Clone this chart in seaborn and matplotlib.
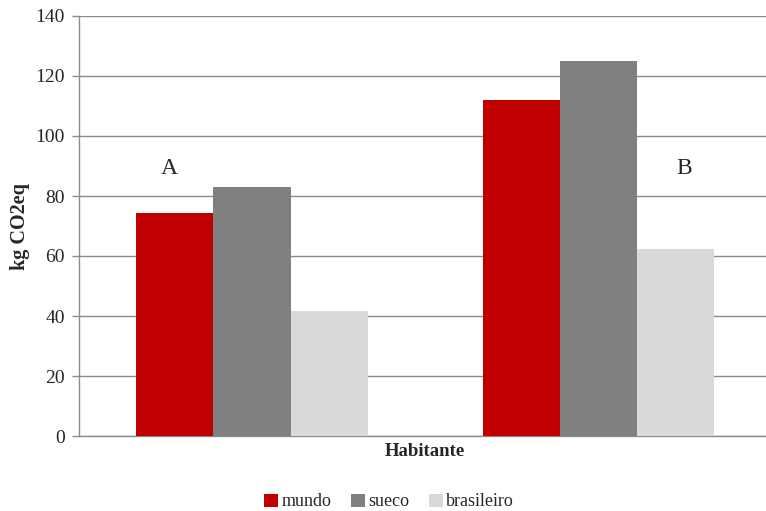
import matplotlib
matplotlib.use("Agg")
import matplotlib.pyplot as plt
import seaborn as sns
import pandas as pd

# Emissions per inhabitant (kg CO2eq) for two scenarios
scenarios = ["A", "B"]
series = ["mundo", "sueco", "brasileiro"]
mundo = [74.3, 112.0]
sueco = [83.0, 124.9]
brasileiro = [41.6, 62.3]
colors = ["#C00000", "#808080", "#D9D9D9"]
yticks = [0, 20, 40, 60, 80, 100, 120, 140]

df = pd.DataFrame({
    "cenario": scenarios * 3,
    "serie": [s for s in series for _ in scenarios],
    "valor": mundo + sueco + brasileiro,
})

sns.set_theme(style="white")
plt.rcParams["font.family"] = ["Liberation Serif", "DejaVu Serif"]

fig = plt.figure(figsize=(7.66, 5.11), dpi=100)
ax = fig.add_axes([78.75 / 766, 75 / 511, 693 / 766, 420 / 511])

sns.barplot(data=df, x="cenario", y="valor", hue="serie", hue_order=series,
            palette=colors, width=0.667, saturation=1, edgecolor="none",
            linewidth=0, ax=ax, zorder=3)

ax.set_xlim(-0.5, 1.5)
ax.set_ylim(0, 140)
ax.set_yticks(yticks)
ax.set_yticklabels([str(v) for v in yticks], fontsize=14)
ax.set_xticks([])
ax.grid(axis="y", color="#8C8C8C", linewidth=1, zorder=0)
ax.tick_params(axis="y", length=5, width=1, color="#8C8C8C", direction="out",
               pad=5, left=True)

for side in ["top", "right"]:
    ax.spines[side].set_visible(False)
for side in ["left", "bottom"]:
    ax.spines[side].set_color("#8C8C8C")
    ax.spines[side].set_linewidth(1)

ax.set_ylabel("kg CO2eq", fontsize=14.5, fontweight="bold", labelpad=4)
ax.set_xlabel("Habitante", fontsize=13.5, fontweight="bold", labelpad=5)

# Scenario labels
ax.text(-0.24, 89.3, "A", fontsize=17, ha="center", va="center")
ax.text(1.247, 89.3, "B", fontsize=17, ha="center", va="center")

ax.legend(loc="center", bbox_to_anchor=(389 / 766, 1 - 502 / 511),
          bbox_transform=fig.transFigure, ncol=3, frameon=False,
          fontsize=13, handlelength=0.75, handleheight=0.75,
          handletextpad=0.2, columnspacing=1.1, borderpad=0)

fig.savefig("out.png", dpi=100)
